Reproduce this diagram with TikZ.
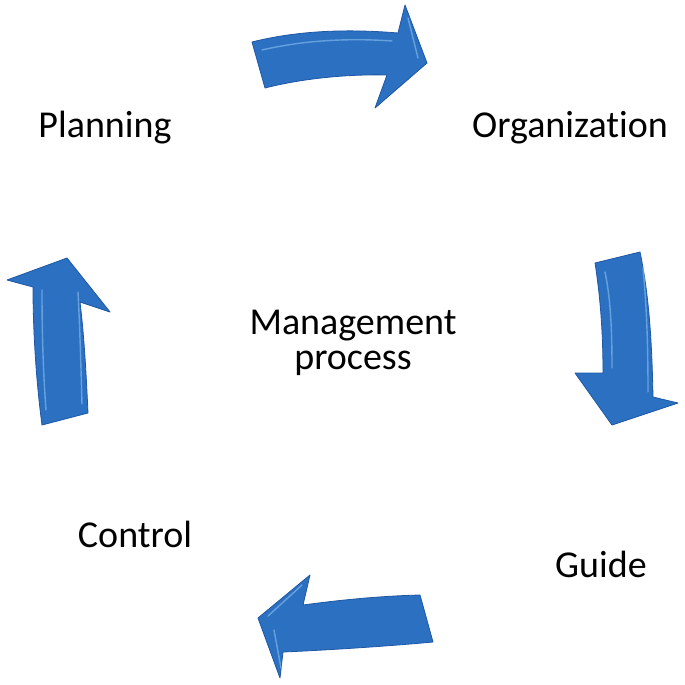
\documentclass[tikz,border=0pt]{standalone}
\usepackage{fontspec}
\setmainfont{Carlito}[Ligatures=NoCommon]
\definecolor{arrowblue}{RGB}{44,112,194}
\definecolor{arrowdark}{RGB}{30,88,165}
\definecolor{arrowlight}{RGB}{140,195,240}
\tikzset{
  bigarrow/.style={fill=arrowblue, draw=arrowdark, line width=0.8pt, line join=round},
  gloss/.style={draw=arrowlight, line width=1.4pt, line cap=round, opacity=0.6},
  label/.style={font=\fontsize{38}{35}\selectfont, anchor=base, inner sep=0pt, text=black}
}
\begin{document}
\begin{tikzpicture}[x=1pt,y=-1pt]
\useasboundingbox (0,0) rectangle (685,685);
\fill[white] (0,0) rectangle (685,685);

% top arrow (Planning -> Organization)
\draw[bigarrow] (252,42) .. controls (300,30) and (350,29) .. (398,33)
  -- (405,5) -- (427,63) -- (375,108) -- (387,75)
  .. controls (345,74) and (300,79) .. (265,88) -- cycle;
\draw[gloss] (262,50) .. controls (305,40) and (350,38) .. (392,41);
\draw[gloss] (408,18) -- (418,58);

% right arrow (Organization -> Guide)
\draw[bigarrow] (595,263) -- (640,252)
  .. controls (650,300) and (652,350) .. (653,397)
  -- (678,403) -- (612,425) -- (575,373) -- (603,373)
  .. controls (603,330) and (600,295) .. (595,263) -- cycle;
\draw[gloss] (605,272) .. controls (611,300) and (612,335) .. (612,368);
\draw[gloss] (643,268) .. controls (647,310) and (648,350) .. (648,392);

% bottom arrow (Guide -> Control)
\draw[bigarrow] (420,595) -- (433,642)
  .. controls (390,646) and (330,650) .. (283,652)
  -- (280,678) -- (258,618) -- (310,575) -- (303,605)
  .. controls (340,600) and (380,596) .. (420,595) -- cycle;
\draw[gloss] (302,585) -- (268,616);
\draw[gloss] (274,630) -- (281,668);

% left arrow (Control -> Planning)
\draw[bigarrow] (42,425) -- (88,413)
  .. controls (86,370) and (84,335) .. (80,302)
  -- (110,312) -- (67,258) -- (7,280) -- (33,287)
  .. controls (33,330) and (36,380) .. (42,425) -- cycle;
\draw[gloss] (42,290) .. controls (42,330) and (43,370) .. (46,410);
\draw[gloss] (78,292) .. controls (80,330) and (81,370) .. (82,404);

% labels
\node[label] (planning) at (105,137) {Planning};
\node[label] (organization) at (570,137) {Organization};
\node[label, align=center] (mgmt) at (353,369) {Management\\process};
\node[label] (control) at (135,547) {Control};
\node[label] (guide) at (601,577) {Guide};
\end{tikzpicture}
\end{document}
